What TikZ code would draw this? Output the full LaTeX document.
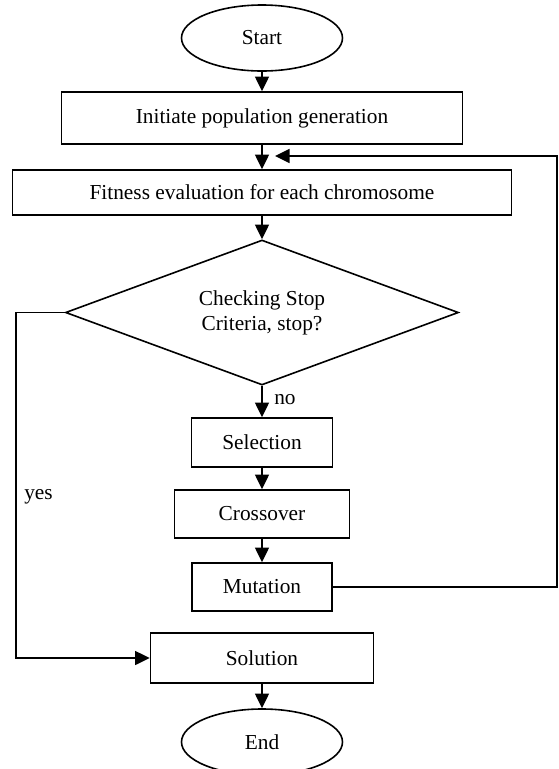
\documentclass[tikz,border=0pt]{standalone}
\usepackage{fontspec}
\setmainfont{Liberation Serif}
\usetikzlibrary{shapes,arrows.meta,positioning}

\begin{document}
\begin{tikzpicture}[x=0.75pt,y=-0.75pt,
	every node/.style={font=\fontsize{16}{18.75}\selectfont},
	box/.style={draw,line width=1.2pt,rectangle,inner sep=0pt},
	term/.style={draw,line width=1.2pt,ellipse,minimum width=120.75pt,minimum height=49.5pt},
	decision/.style={draw,line width=1.2pt,diamond,aspect=2.7,inner sep=0pt,align=center,minimum width=294.75pt,minimum height=108.75pt},
	flow/.style={line width=1.2pt,-{Triangle[length=11pt,width=10.5pt]}}]
	\useasboundingbox (0,0) rectangle (559,769);
	\node[term] (start) at (262,38) {Start};
	\node[box,minimum width=300.75pt,minimum height=39pt] (init) at (262,118) {Initiate population generation};
	\node[box,minimum width=374.25pt,minimum height=33.75pt] (fit) at (262,192.5) {Fitness evaluation for each chromosome};
	\node[decision] (check) at (262,312.5) {Checking Stop\\Criteria, stop?};
	\node[box,minimum width=105.75pt,minimum height=36.75pt] (sel) at (262,442.5) {Selection};
	\node[box,minimum width=131.25pt,minimum height=36pt] (cross) at (262,514) {Crossover};
	\node[box,minimum width=105pt,minimum height=36pt] (mut) at (262,587) {Mutation};
	\node[box,minimum width=167.25pt,minimum height=37.5pt] (sol) at (262,658) {Solution};
	\node[term] (end) at (262,742) {End};
	\node[anchor=west,inner sep=0pt] (no) at (274,400) {no};
	\node[anchor=west,inner sep=0pt] (yes) at (24,497) {yes};
	\coordinate (fbright) at (557,156);
	\coordinate (fbtip) at (275,156);
	\coordinate (yesleft) at (16,658);

	\draw[flow] (start) -- (init);
	\draw[flow] (init) -- (fit);
	\draw[flow] (fit) -- (check);
	\draw[flow] (check) -- (sel);
	\draw[flow] (sel) -- (cross);
	\draw[flow] (cross) -- (mut);
	\draw[flow] (sol) -- (end);
	\draw[flow] (mut.east) -| (fbright) -- (fbtip);
	\draw[flow] (check.west) -| (yesleft) -- (sol.west);
\end{tikzpicture}
\end{document}
